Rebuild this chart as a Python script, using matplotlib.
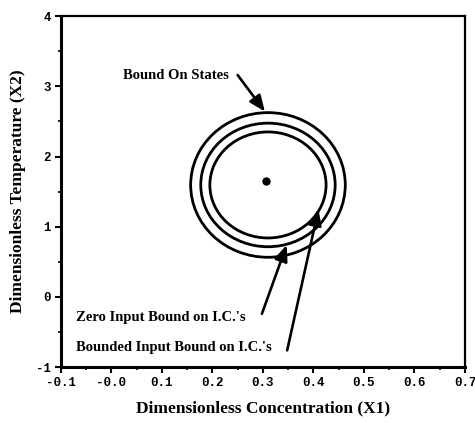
import matplotlib
matplotlib.use("Agg")
import matplotlib.pyplot as plt
from matplotlib.patches import Ellipse

# ---------- DATA ----------
x_ticks = [-0.1, 0.0, 0.1, 0.2, 0.3, 0.4, 0.5, 0.6, 0.7]
x_tick_labels = ["-0.1", "-0.0", "0.1", "0.2", "0.3", "0.4", "0.5", "0.6", "0.7"]
y_ticks = [-1, 0, 1, 2, 3, 4]
y_tick_labels = ["-1", "0", "1", "2", "3", "4"]

# equilibrium point
eq_x = [0.306]
eq_y = [1.65]

# bound ellipses (inner, middle, outer): center + half widths
bound_cx = 0.310
bound_cy = 1.595
bound_rx = [0.115, 0.133, 0.153]
bound_ry = [0.755, 0.88, 1.03]

# labels: text, text position, arrow tail, arrow tip
labels = ["Bound On States", "Zero Input Bound on I.C.'s", "Bounded Input Bound on I.C.'s"]
label_pos = [(0.023, 3.15), (-0.070, -0.29), (-0.070, -0.72)]
arrow_tail = [(0.250, 3.16), (0.298, -0.24), (0.348, -0.76)]
arrow_tip = [(0.304, 2.64), (0.347, 0.74), (0.410, 1.25)]

serif = "Liberation Serif"

fig = plt.figure(figsize=(4.75, 4.23), dpi=100)
ax = fig.add_axes([0.128, 0.132, 0.851, 0.830])

for rx, ry in zip(bound_rx, bound_ry):
    ax.add_patch(Ellipse((bound_cx, bound_cy), 2 * rx, 2 * ry,
                         fill=False, edgecolor="black", lw=2.0))

ax.plot(eq_x, eq_y, "o", color="black", markersize=5)

for txt, pos, tail, tip in zip(labels, label_pos, arrow_tail, arrow_tip):
    ax.text(pos[0], pos[1], txt, fontsize=10.5, fontweight="bold",
            family=serif, ha="left", va="center")
    ax.annotate("", xy=tip, xytext=tail,
                arrowprops=dict(arrowstyle="-|>,head_length=0.6,head_width=0.25",
                                color="black", lw=1.9,
                                mutation_scale=16, shrinkA=0, shrinkB=0))

ax.set_xlim(-0.1, 0.7)
ax.set_ylim(-1, 4)
ax.set_xticks(x_ticks)
ax.set_xticklabels(x_tick_labels)
ax.set_yticks(y_ticks)
ax.set_yticklabels(y_tick_labels)
ax.set_xticks([v + 0.05 for v in x_ticks[:-1]], minor=True)
ax.set_yticks([v + 0.5 for v in y_ticks[:-1]], minor=True)

for lab in ax.get_xticklabels() + ax.get_yticklabels():
    lab.set_family("Liberation Mono")
    lab.set_fontweight("bold")
    lab.set_fontsize(9)

ax.tick_params(which="major", direction="out", length=4, width=1.5, pad=3)
ax.tick_params(which="minor", direction="out", length=2.5, width=1.2)

ax.spines["left"].set_linewidth(2.2)
ax.spines["bottom"].set_linewidth(2.2)
ax.spines["top"].set_linewidth(1.6)
ax.spines["right"].set_linewidth(1.6)

ax.set_xlabel("Dimensionless Concentration (X1)", fontsize=12.5, fontweight="bold",
              family=serif, labelpad=8)
ax.set_ylabel("Dimensionless Temperature (X2)", fontsize=12.5, fontweight="bold",
              family=serif, labelpad=7)

plt.savefig("out.png", dpi=100)
